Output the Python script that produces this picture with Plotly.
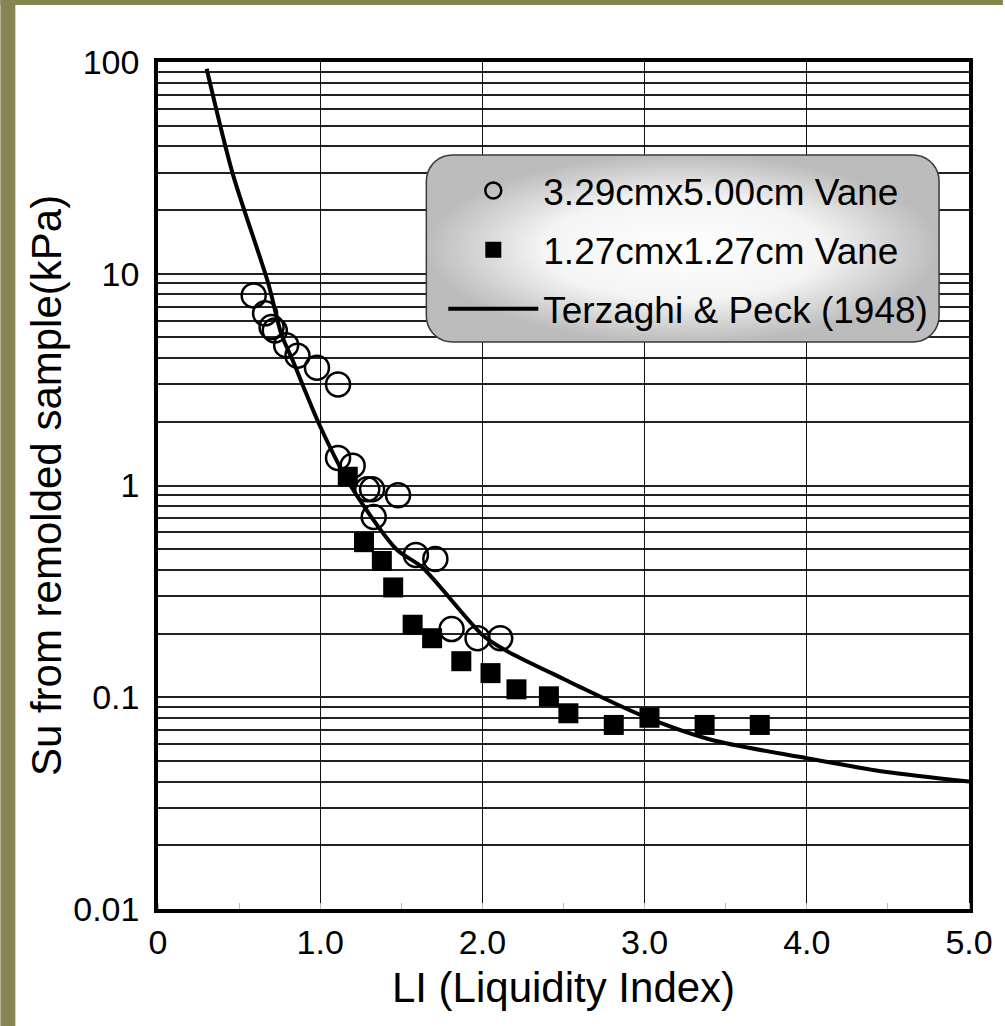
import plotly.graph_objects as go
import numpy as np

# ---- data ----
circle_li = [0.59, 0.66, 0.70, 0.72, 0.79, 0.86, 0.98, 1.11, 1.11, 1.20, 1.29, 1.32, 1.48, 1.33, 1.59, 1.71, 1.81, 1.97, 2.11]
circle_su = [7.9, 6.5, 5.6, 5.4, 4.6, 4.1, 3.6, 3.0, 1.35, 1.24, 0.96, 0.96, 0.90, 0.71, 0.47, 0.45, 0.21, 0.19, 0.19]

square_li = [1.17, 1.27, 1.38, 1.45, 1.57, 1.69, 1.87, 2.05, 2.21, 2.41, 2.53, 2.81, 3.03, 3.37, 3.71]
square_su = [1.10, 0.54, 0.44, 0.33, 0.22, 0.19, 0.148, 0.130, 0.109, 0.101, 0.084, 0.074, 0.080, 0.074, 0.074]

tp_li = [0.30, 0.46, 0.68, 0.76, 0.83, 1.00, 1.18, 1.47, 1.63, 2.00, 2.14, 2.51, 2.60, 3.00, 3.41, 4.00, 4.48, 5.00]
tp_su = [93, 29.8, 9.0, 5.2, 3.9, 1.9, 1.02, 0.50, 0.41, 0.197, 0.167, 0.121, 0.112, 0.081, 0.063, 0.0515, 0.0445, 0.040]

x_tickvals = [0, 1, 2, 3, 4, 5]
x_ticktext = ["0", "1.0", "2.0", "3.0", "4.0", "5.0"]
y_tickvals = [0.01, 0.1, 1, 10, 100]
y_ticktext = ["0.01", "0.1", "1", "10", "100"]

names = ["3.29cmx5.00cm Vane", "1.27cmx1.27cm Vane", "Terzaghi & Peck (1948)"]

FONT = "Arial, Liberation Sans, sans-serif"

# plot area geometry in pixels
W, H = 1005, 1026
L, R, T, B = 158, 34, 62, 117
PW, PH = W - L - R, H - T - B

fig = go.Figure()

fig.add_trace(go.Scatter(
    x=circle_li, y=circle_su, mode="markers", name=names[0], legendgroup="a",
    marker=dict(symbol="circle-open", size=24, color="black", line=dict(width=2.5, color="black")),
))
fig.add_trace(go.Scatter(
    x=square_li, y=square_su, mode="markers", name=names[1], legendgroup="b",
    marker=dict(symbol="square", size=20, color="black"),
))
fig.add_trace(go.Scatter(
    x=tp_li, y=tp_su, mode="lines", name=names[2], legendgroup="c",
    line=dict(color="black", width=4, shape="spline", smoothing=0.8),
))

# legend box (rounded, gradient) on an overlay axis in plot-fraction units
bx0, bx1 = (427 - L) / PW, (941 - L) / PW
by0, by1 = (H - B - 342) / PH, (H - B - 155) / PH
rx, ry = 26 / PW, 26 / PH
pts = []
for cx, cy, a0 in [(bx1 - rx, by1 - ry, 0), (bx0 + rx, by1 - ry, 90), (bx0 + rx, by0 + ry, 180), (bx1 - rx, by0 + ry, 270)]:
    ang = np.radians(np.linspace(a0, a0 + 90, 10))
    pts += [(cx + rx * np.cos(t), cy + ry * np.sin(t)) for t in ang]
pts.append(pts[0])
fig.add_trace(go.Scatter(
    x=[p[0] for p in pts], y=[p[1] for p in pts], xaxis="x2", yaxis="y2",
    mode="lines", fill="toself", showlegend=False, hoverinfo="skip",
    line=dict(color="#3a3a3a", width=1.5),
    fillgradient=dict(type="radial", colorscale=[[0, "#ffffff"], [0.55, "#f4f4f4"], [1, "#bcbcbc"]]),
))

minor_y = [m * 10.0 ** e for e in range(-2, 2) for m in range(2, 10)]

fig.update_layout(
    width=W, height=H,
    margin=dict(l=L, r=R, t=T, b=B),
    plot_bgcolor="white", paper_bgcolor="white",
    font=dict(family=FONT, color="black", size=34),
    xaxis=dict(
        range=[0, 5], tickvals=x_tickvals, ticktext=x_ticktext,
        showgrid=True, gridcolor="#111111", gridwidth=1.3,
        showline=True, linewidth=3.5, linecolor="black", mirror=True,
        zeroline=False, ticks="", ticklabelstandoff=0,
        tickfont=dict(size=34),
        minor=dict(dtick=0.5, ticks="inside", ticklen=6, tickcolor="#bbbbbb", tickwidth=1, showgrid=False),
        title=dict(text="LI (Liquidity Index)", font=dict(size=42), standoff=14),
    ),
    yaxis=dict(
        type="log", range=[-2, 2], tickvals=y_tickvals, ticktext=y_ticktext,
        showgrid=True, gridcolor="#222222", gridwidth=2,
        showline=True, linewidth=3.5, linecolor="black", mirror=True,
        zeroline=False, ticks="", ticklabelstandoff=8,
        tickfont=dict(size=34),
        minor=dict(tickvals=minor_y, showgrid=True, gridcolor="#222222", gridwidth=2, ticks=""),
        title=dict(text="Su from remolded sample(kPa)", font=dict(size=42), standoff=0),
    ),
    xaxis2=dict(overlaying="x", range=[0, 1], visible=False, anchor="y2"),
    yaxis2=dict(overlaying="y", range=[0, 1], visible=False, anchor="x2"),
    legend=dict(
        x=(444 - L) / PW, y=(H - B - 160) / PH, xanchor="left", yanchor="top",
        bgcolor="rgba(0,0,0,0)", borderwidth=0,
        font=dict(size=37, family=FONT, color="black"),
        itemwidth=90, tracegroupgap=8, itemsizing="trace",
    ),
    showlegend=True,
    shapes=[
        dict(type="rect", xref="paper", yref="paper", layer="above",
             x0=-L / PW, x1=(15 - L) / PW, y0=-B / PH, y1=(PH + T) / PH,
             fillcolor="#878552", line=dict(width=0)),
        dict(type="rect", xref="paper", yref="paper", layer="above",
             x0=-L / PW, x1=(PW + R) / PW, y0=(PH + T - 5) / PH, y1=(PH + T) / PH,
             fillcolor="#878552", line=dict(width=0)),
    ],
)

fig.write_html(
    "out.html",
    config={"displayModeBar": False},
    post_script="document.body.style.margin='0';document.body.style.overflow='hidden';",
)
